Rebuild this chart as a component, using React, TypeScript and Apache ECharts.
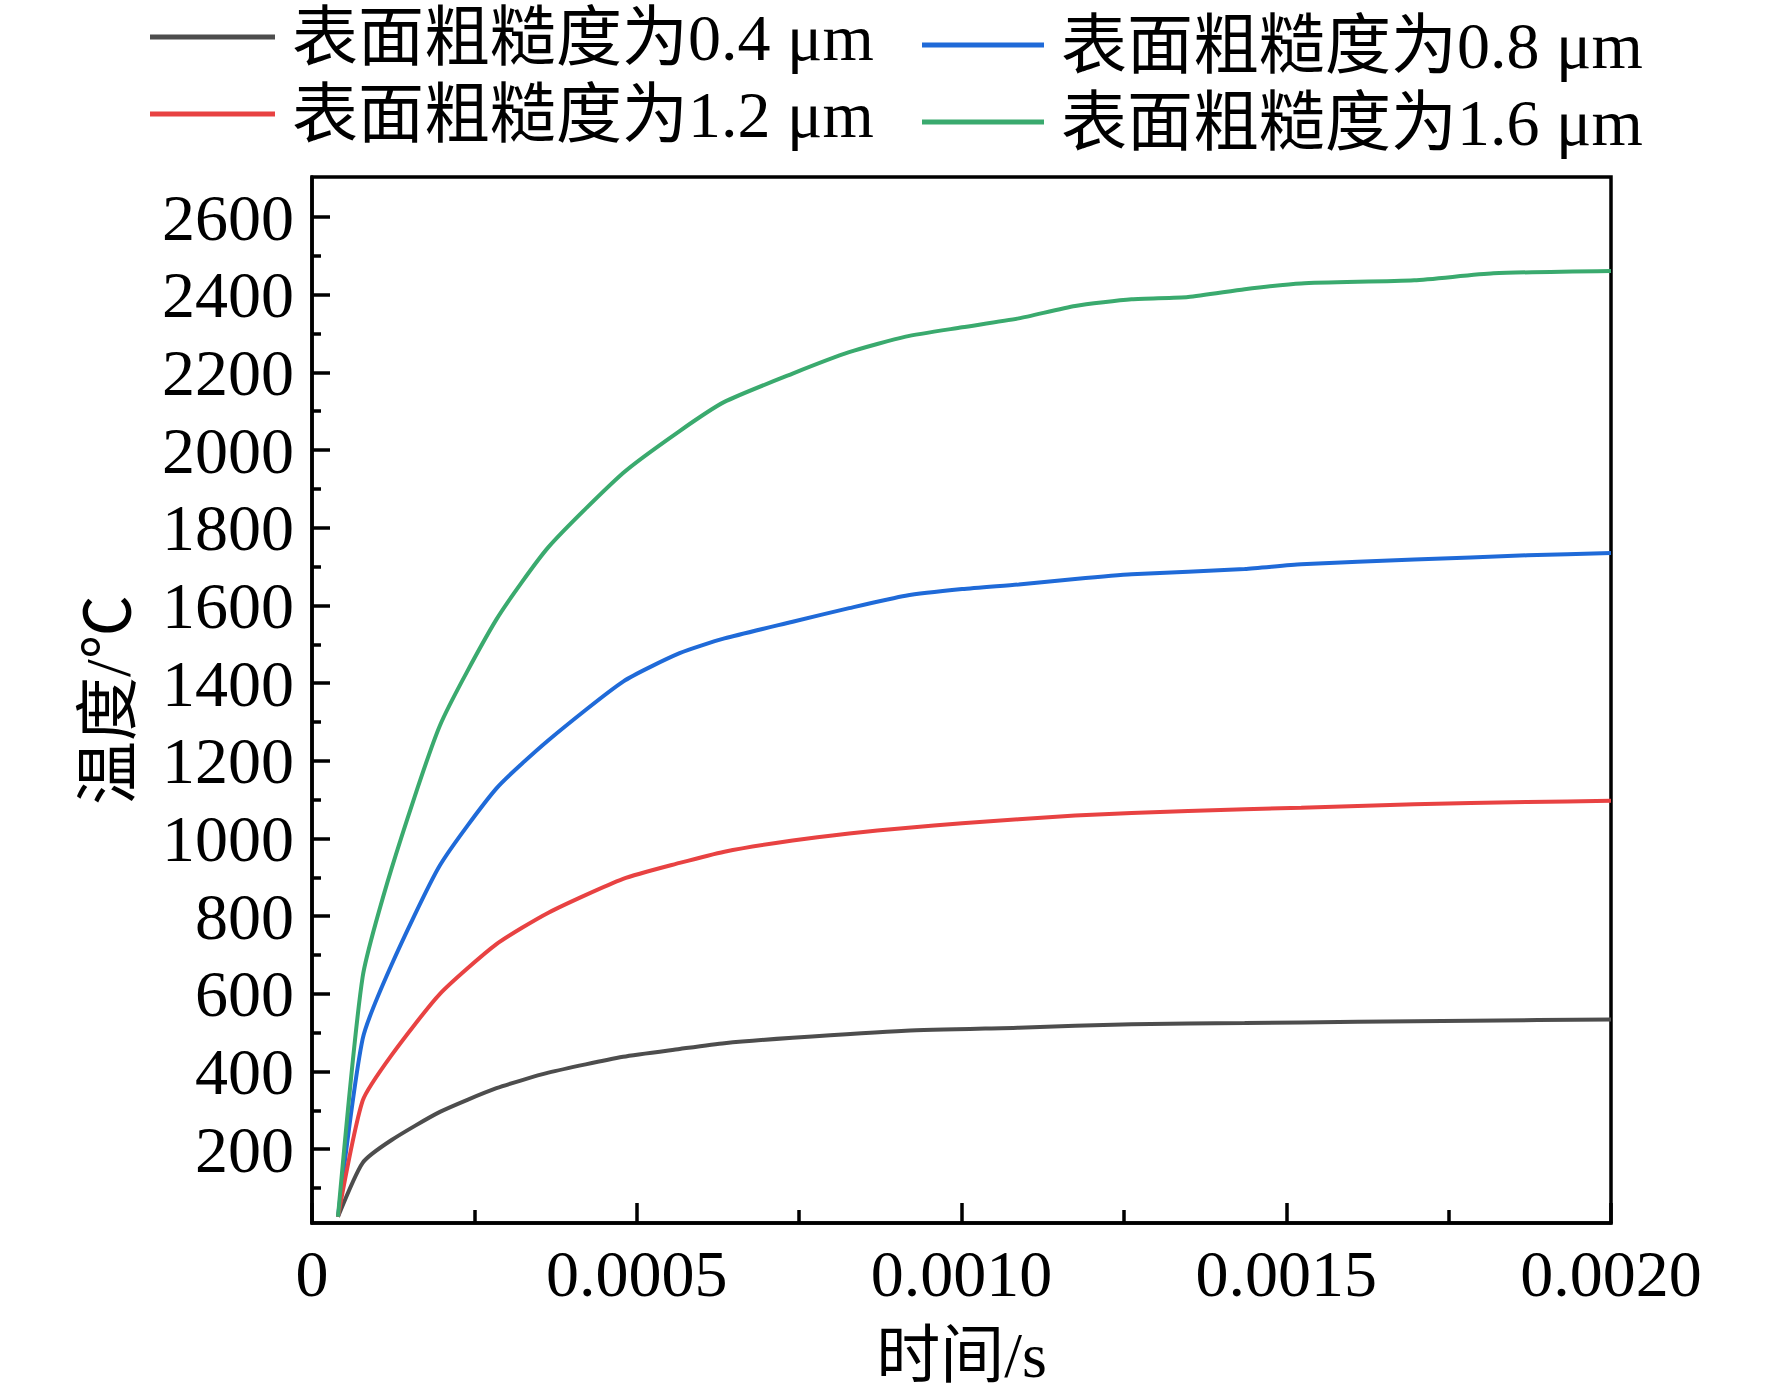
import React, { useEffect, useRef } from "react";
import * as echarts from "echarts";

const seriesNames = ["表面粗糙度为0.4 μm", "表面粗糙度为0.8 μm", "表面粗糙度为1.2 μm", "表面粗糙度为1.6 μm"];
const seriesColors = ["#4d4d4d", "#1f6ad8", "#e84242", "#3aaa6e"];

const timeGray = [0.00004, 0.000078, 0.000122, 0.000197, 0.000284, 0.000364, 0.000479, 0.000566, 0.000635, 0.00074, 0.000914, 0.001088, 0.001262, 0.001436, 0.00161, 0.001784, 0.002];
const tempGray = [26, 165, 223, 296, 357, 397, 438, 458, 473, 487, 505, 513, 522, 525, 528, 531, 534];

const timeBlue = [0.00004, 0.000078, 0.000122, 0.000197, 0.000284, 0.000364, 0.000479, 0.000566, 0.000635, 0.00074, 0.000827, 0.000914, 0.001001, 0.001088, 0.001175, 0.001262, 0.001436, 0.001523, 0.001697, 0.001871, 0.002];
const tempBlue = [26, 484, 673, 931, 1129, 1253, 1404, 1477, 1515, 1558, 1593, 1625, 1642, 1654, 1668, 1680, 1694, 1706, 1718, 1729, 1735];

const timeRed = [0.00004, 0.000078, 0.000122, 0.000197, 0.000284, 0.000364, 0.000479, 0.000566, 0.000635, 0.00074, 0.000827, 0.000914, 0.001001, 0.001175, 0.001349, 0.001523, 0.001697, 0.001871, 0.002];
const tempRed = [26, 325, 441, 600, 728, 809, 896, 937, 966, 995, 1013, 1027, 1039, 1059, 1071, 1079, 1088, 1094, 1097];

const timeGreen = [0.00004, 0.000078, 0.000122, 0.000197, 0.000284, 0.000364, 0.000479, 0.000566, 0.000635, 0.00074, 0.000827, 0.000914, 0.001001, 0.001088, 0.001175, 0.001262, 0.001349, 0.001436, 0.001523, 0.001697, 0.001819, 0.002];
const tempGreen = [26, 644, 920, 1291, 1564, 1750, 1941, 2049, 2124, 2197, 2252, 2292, 2316, 2339, 2371, 2388, 2394, 2414, 2429, 2437, 2455, 2461];

const yMajorTicks = [200, 400, 600, 800, 1000, 1200, 1400, 1600, 1800, 2000, 2200, 2400, 2600];
const yMinorTicks = [100, 300, 500, 700, 900, 1100, 1300, 1500, 1700, 1900, 2100, 2300, 2500];

const FONT = "'Liberation Serif', 'Times New Roman', 'Noto Sans CJK SC', serif";

function zip(xs: number[], ys: number[]) {
  return xs.map((x, i) => [x, ys[i]]);
}

export default function App() {
  const ref = useRef<HTMLDivElement>(null);
  useEffect(() => {
    if (!ref.current) return;
    const chart = echarts.init(ref.current, undefined, { renderer: "svg" });
    const datasets = [zip(timeGray, tempGray), zip(timeBlue, tempBlue), zip(timeRed, tempRed), zip(timeGreen, tempGreen)];
    const legendText = {
      fontSize: 66,
      fontFamily: FONT,
      color: "#000",
      lineHeight: 66,
      padding: [0, 0, 0, 12],
    };
    chart.setOption({
      animation: false,
      backgroundColor: "#fff",
      grid: {
        left: 312,
        top: 177,
        width: 1299,
        height: 1046,
        show: true,
        borderColor: "#000",
        borderWidth: 3.5,
        backgroundColor: "transparent",
      },
      legend: [
        {
          data: [seriesNames[0], seriesNames[2]],
          orient: "vertical",
          left: 150,
          top: 4,
          padding: 0,
          itemGap: 11,
          itemWidth: 125,
          itemHeight: 5,
          icon: "rect",
          textStyle: legendText,
        },
        {
          data: [seriesNames[1], seriesNames[3]],
          orient: "vertical",
          left: 922,
          top: 12,
          padding: 0,
          itemGap: 11,
          itemWidth: 122,
          itemHeight: 5,
          icon: "rect",
          textStyle: legendText,
        },
      ],
      xAxis: {
        type: "value",
        min: 0,
        max: 0.002,
        interval: 0.0005,
        name: "时间/s",
        nameLocation: "middle",
        nameGap: 100,
        nameTextStyle: { fontSize: 64, fontFamily: FONT, color: "#000" },
        axisLine: { show: true, lineStyle: { color: "#000", width: 3.5 } },
        axisTick: { show: true, inside: true, length: 20, lineStyle: { color: "#000", width: 3.5 } },
        minorTick: { show: true, splitNumber: 2, length: 13, lineStyle: { color: "#000", width: 3.5 } },
        splitLine: { show: false },
        minorSplitLine: { show: false },
        axisLabel: {
          fontSize: 66,
          fontFamily: FONT,
          color: "#000",
          margin: 17,
          formatter: (v: number) => (v === 0 ? "0" : v.toFixed(4)),
        },
      },
      yAxis: [
        {
          type: "value",
          min: 10,
          max: 2703,
          name: "温度/℃",
          nameLocation: "middle",
          nameGap: 172,
          nameTextStyle: { fontSize: 64, fontFamily: FONT, color: "#000" },
          axisLine: { show: true, lineStyle: { color: "#000", width: 3.5 } },
          axisTick: { show: true, inside: true, length: 18, customValues: yMajorTicks, lineStyle: { color: "#000", width: 3.5 } },
          splitLine: { show: false },
          axisLabel: {
            fontSize: 66,
            fontFamily: FONT,
            color: "#000",
            margin: 18,
            customValues: yMajorTicks,
            formatter: (v: number) => String(Math.round(v)),
          },
        },
        {
          type: "value",
          min: 10,
          max: 2703,
          position: "left",
          axisLine: { show: false },
          axisTick: { show: true, inside: true, length: 9, customValues: yMinorTicks, lineStyle: { color: "#000", width: 3.5 } },
          axisLabel: { show: false },
          splitLine: { show: false },
        },
      ],
      series: datasets.map((d, i) => ({
        name: seriesNames[i],
        type: "line",
        data: d,
        showSymbol: false,
        symbol: "none",
        smooth: 0.2,
        yAxisIndex: 0,
        itemStyle: { color: seriesColors[i] },
        lineStyle: { color: seriesColors[i], width: 4 },
        z: 3,
      })),
    });
    return () => chart.dispose();
  }, []);
  return (
    <div
      ref={ref}
      style={{ position: "absolute", left: 0, top: 0, width: 1772, height: 1399 }}
    />
  );
}
